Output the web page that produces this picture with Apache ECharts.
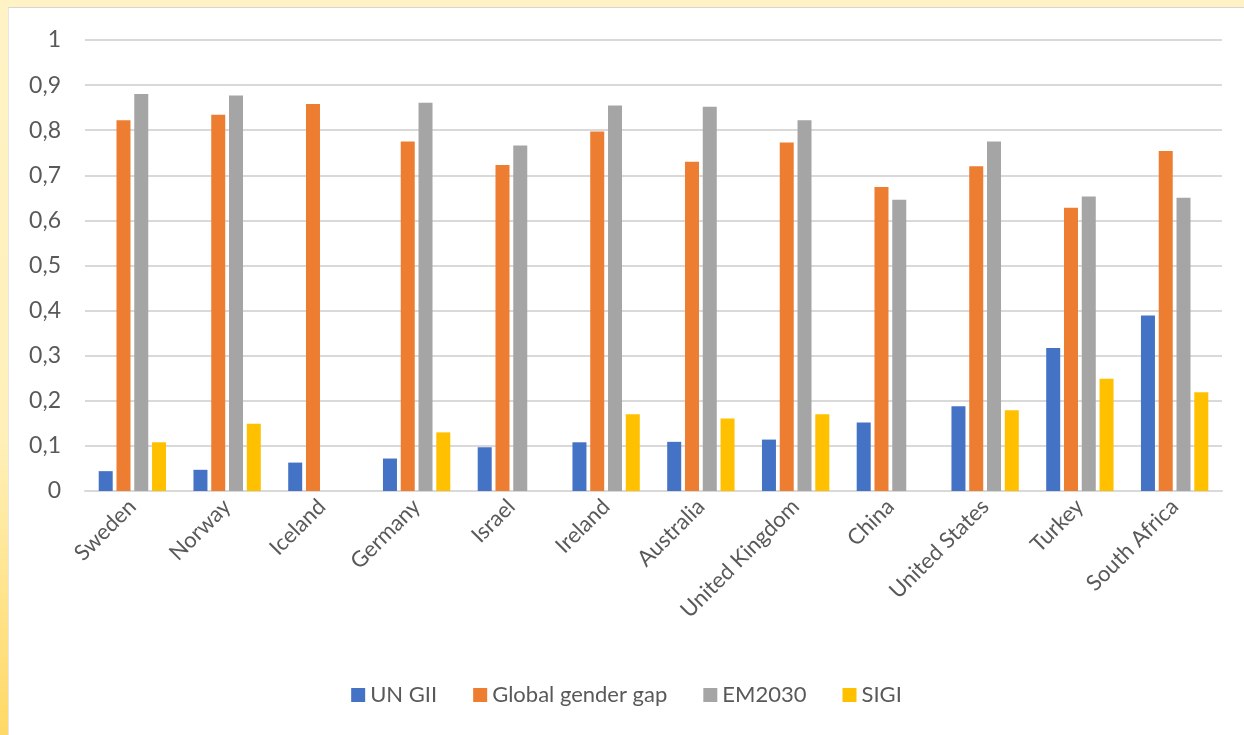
<!DOCTYPE html>
<html>
<head>
<meta charset="utf-8">
<title>Gender indices</title>
<script src="https://cdn.jsdelivr.net/npm/echarts@6/dist/echarts.min.js"></script>
<style>
  html, body { margin: 0; padding: 0; }
  body {
    width: 1244px; height: 735px; overflow: hidden;
    background: linear-gradient(to bottom, #fff3c6 0%, #fff0b8 60%, #ffd965 100%);
  }
  #frame {
    position: absolute; left: 8px; top: 7px; width: 1236px; height: 728px;
    background: #fff; border-top: 1px solid #d6d6d6; border-left: 1px solid #e6e6e6;
    box-sizing: border-box;
  }
  #chart { width: 100%; height: 100%; }
</style>
</head>
<body>
<div id="frame"><div id="chart"></div></div>
<script>
// data
var countries = ['Sweden', 'Norway', 'Iceland', 'Germany', 'Israel', 'Ireland',
  'Australia', 'United Kingdom', 'China', 'United States', 'Turkey', 'South Africa'];
var unGii  = [0.044, 0.047, 0.063, 0.072, 0.097, 0.108, 0.109, 0.114, 0.152, 0.188, 0.317, 0.389];
var gggap  = [0.822, 0.834, 0.858, 0.775, 0.723, 0.797, 0.730, 0.773, 0.674, 0.720, 0.628, 0.754];
var em2030 = [0.880, 0.877, null, 0.861, 0.766, 0.855, 0.852, 0.822, 0.646, 0.775, 0.653, 0.650];
var sigi   = [0.108, 0.149, null, 0.130, null, 0.170, 0.161, 0.170, null, 0.179, 0.249, 0.219];
var seriesNames = ['UN GII', 'Global gender gap', 'EM2030', 'SIGI'];
var colors = ['#4472c4', '#ed7d31', '#a5a5a5', '#ffc000'];

var chart = echarts.init(document.getElementById('chart'));
var font = 'Lato, "Open Sans", sans-serif';

function bar(name, data) {
  return { name: name, type: 'bar', data: data, barWidth: 14, barGap: '27%' };
}

chart.setOption({
  color: colors,
  textStyle: { fontFamily: font },
  grid: { left: 76, right: 22, top: 32, bottom: 244 },
  legend: {
    bottom: 24, left: 'center',
    itemWidth: 14, itemHeight: 14, itemGap: 36,
    icon: 'rect',
    textStyle: { fontSize: 22, color: '#595959', fontFamily: font },
    data: seriesNames
  },
  xAxis: {
    type: 'category',
    data: countries,
    axisLine: { lineStyle: { color: '#d9d9d9', width: 2 } },
    axisTick: { show: false },
    axisLabel: { rotate: 45, fontSize: 22, color: '#595959', margin: 12, interval: 0 }
  },
  yAxis: {
    type: 'value',
    min: 0, max: 1, interval: 0.1,
    axisLine: { show: false },
    axisTick: { show: false },
    splitLine: { lineStyle: { color: '#d9d9d9', width: 2 } },
    axisLabel: {
      fontSize: 23, color: '#595959', margin: 24,
      formatter: function (v) { return String(Math.round(v * 10) / 10).replace('.', ','); }
    }
  },
  series: [
    bar(seriesNames[0], unGii),
    bar(seriesNames[1], gggap),
    bar(seriesNames[2], em2030),
    bar(seriesNames[3], sigi)
  ]
});
</script>
</body>
</html>
